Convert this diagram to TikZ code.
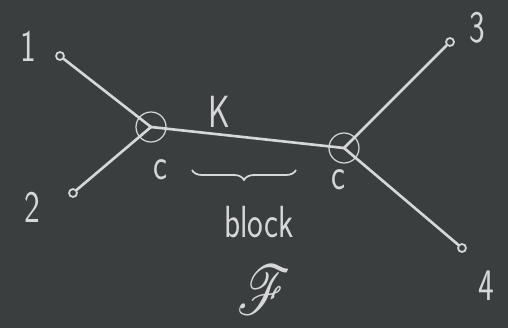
\documentclass[tikz,border=0pt]{standalone}
\usepackage{amsmath}
\usepackage{mathrsfs}
\usetikzlibrary{positioning,decorations.pathreplacing}
\definecolor{board}{RGB}{58,62,63}
\definecolor{chalk}{RGB}{214,216,216}

\begin{document}
\begin{tikzpicture}[
    x=0.02cm, y=-0.02cm,
    leg/.style={draw=chalk, line width=1.5pt, line cap=round},
    ext/.style={circle, draw=chalk, line width=1pt, inner sep=0pt, minimum size=0.16cm},
    vertex/.style={circle, draw=chalk, line width=0.7pt, inner sep=0pt, minimum size=0.6cm},
    chalktext/.style={text=chalk, font=\sffamily\fontsize{19}{19}\selectfont, yscale=1.35, transform shape}
]

% board
\fill[board] (0,0) rectangle (508,328);

% external points
\node (p1) [ext] at (60,56) {};
\node (p2) [ext] at (73,193) {};
\node (p3) [ext] at (450,42) {};
\node (p4) [ext] at (462,248) {};

% two vertices
\node (v1) [vertex] at (151,127) {};
\node (v2) [vertex] at (344,148) {};

% labels
\node (n1) [chalktext] at (28,46) {1};
\node (n2) [chalktext] at (32,207) {2};
\node (n3) [chalktext] at (477,28) {3};
\node (n4) [chalktext] at (486,286) {4};
\node (k) [chalktext] at (219,112) {K};
\node (c1) [chalktext] at (160,170) {c};
\node (c2) [chalktext] at (338,180) {c};
\node (word) [chalktext] at (259,222) {block};
\node (fsym) [chalktext, scale=1.7] at (264,290) {$\mathscr{F}$};

% legs and propagator
\draw [leg] (p1) -- (v1.center);
\draw [leg] (p2) -- (v1.center);
\draw [leg] (v1.center) -- (v2.center);
\draw [leg] (p3) -- (v2.center);
\draw [leg] (p4) -- (v2.center);

% brace under the propagator
\coordinate (bl) at (192,170);
\coordinate (br) at (296,170);
\draw [draw=chalk, line width=1pt, decorate, decoration={brace, mirror, amplitude=0.2cm}] (bl) -- (br);

\end{tikzpicture}
\end{document}
